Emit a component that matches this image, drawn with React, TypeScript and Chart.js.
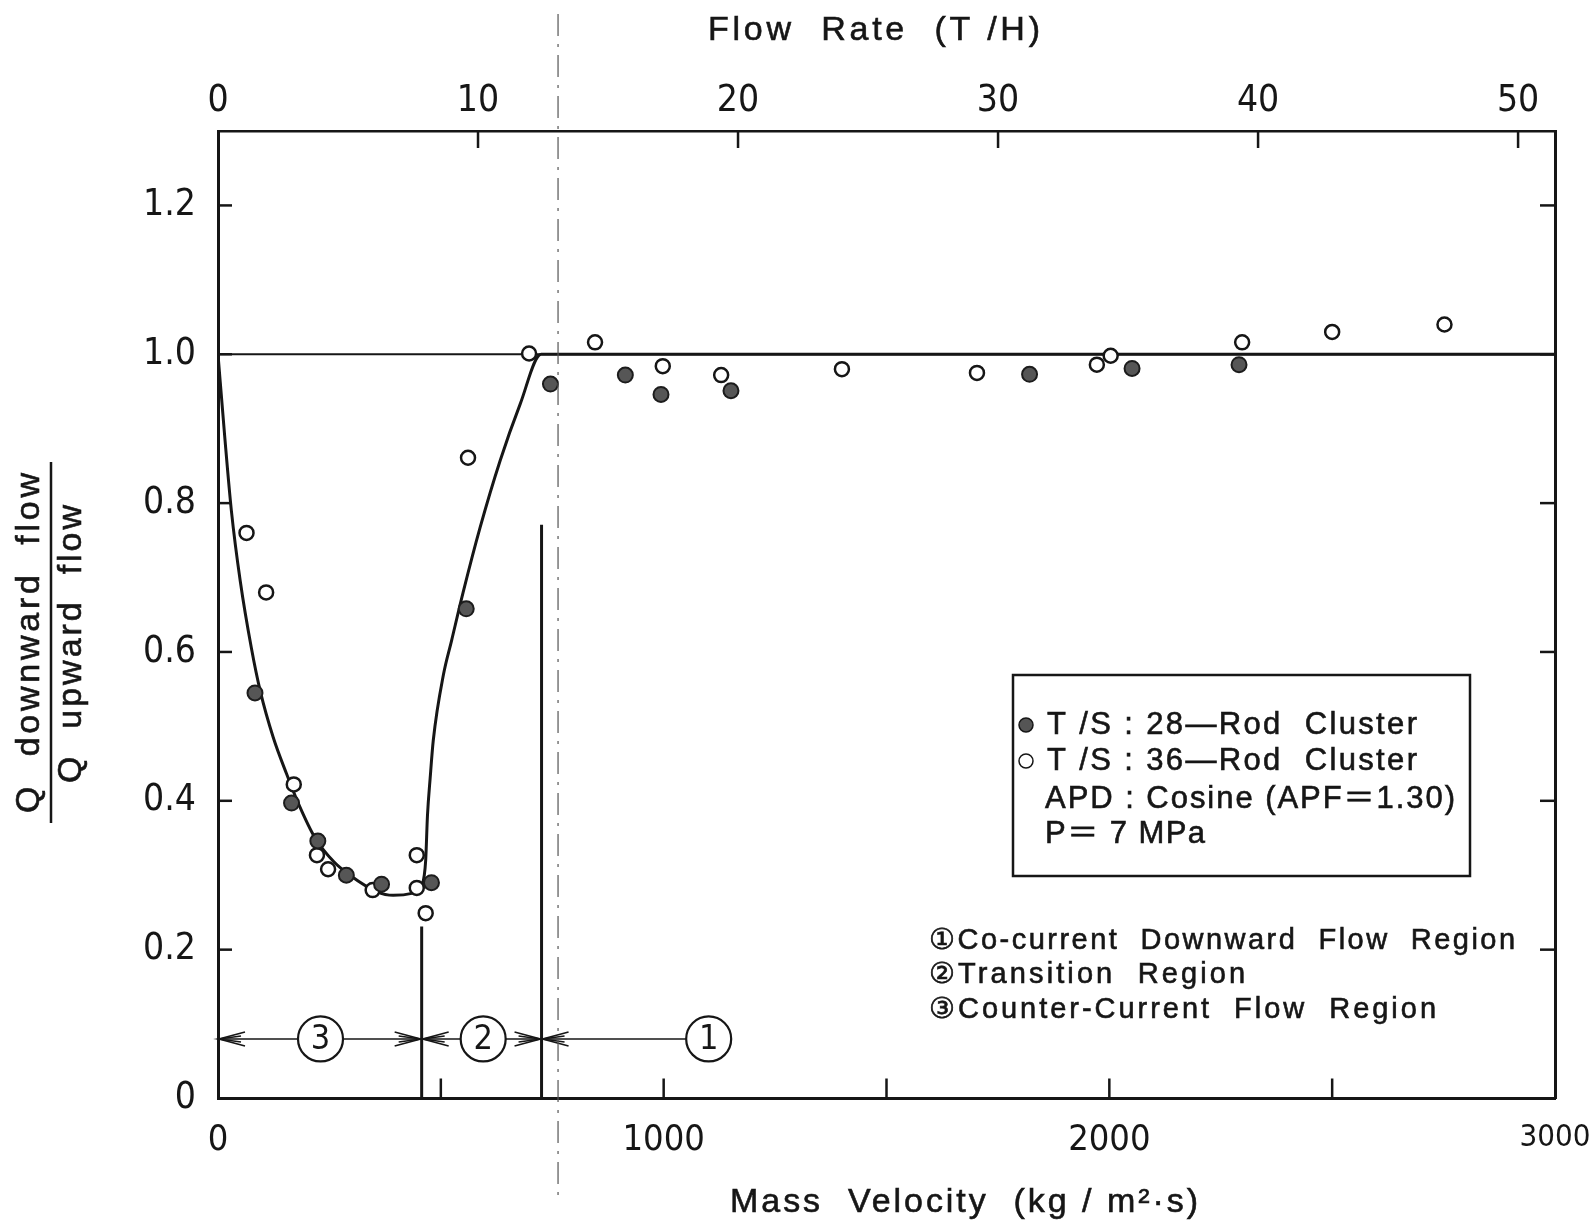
import React, { useEffect, useRef } from 'react';
import { Chart, registerables } from 'chart.js';

Chart.register(...registerables);

// ---------------- data ----------------
const MASS_TICKS = [0, 500, 1000, 1500, 2000, 2500, 3000];
const MASS_LABELED = [0, 1000, 2000, 3000];
const FLOW_TICKS = [0, 10, 20, 30, 40, 50];
const FLOW_MAX = 51.42; // T/H at 3000 kg/m2s
const RATIO_TICKS = [0, 0.2, 0.4, 0.6, 0.8, 1.0, 1.2];

// T/S : 28-Rod Cluster (filled)
const FILLED_X = [83, 165, 224, 288, 367, 479, 557, 746, 914, 994, 1151, 1821, 2051, 2291];
const FILLED_Y = [0.545, 0.397, 0.346, 0.300, 0.288, 0.290, 0.658, 0.960, 0.972, 0.946, 0.951, 0.973, 0.981, 0.986];

// T/S : 36-Rod Cluster (open)
const OPEN_X = [64, 108, 170, 222, 247, 347, 446, 446, 466, 561, 698, 846, 998, 1129, 1400, 1703, 1972, 2003, 2298, 2500, 2752];
const OPEN_Y = [0.760, 0.680, 0.422, 0.327, 0.308, 0.280, 0.327, 0.283, 0.249, 0.861, 1.001, 1.016, 0.984, 0.972, 0.980, 0.975, 0.986, 0.998, 1.016, 1.030, 1.040];

// fitted curve
const CURVE_X = [0, 15, 30, 50, 75, 95, 124, 154, 180, 218, 260, 296, 356, 393, 438, 458, 466, 470, 476, 483, 506, 524, 550, 588, 633, 678, 725, 3000];
const CURVE_Y = [1.0, 0.89, 0.79, 0.695, 0.605, 0.547, 0.485, 0.436, 0.397, 0.350, 0.318, 0.300, 0.278, 0.273, 0.276, 0.287, 0.32, 0.38, 0.43, 0.481, 0.570, 0.615, 0.680, 0.767, 0.857, 0.933, 1.0, 1.0];

const REF_X = [0, 3000];
const REF_Y = [1.0, 1.0];

// region boundaries
const BOUNDARY_X = [457, 726];
const BOUNDARY_TOP = [0.231, 0.771];
const DASHDOT_X = 763;

// region arrows
const ARROW_Y = 0.08;
const REGION_LABELS = ['3', '2', '1'];
const REGION_FROM = [0, 457, 726];
const REGION_TO = [457, 726, 1101];
const REGION_CIRCLE_X = [230, 595, 1101];
const REGION_RIGHT_ARROW = [true, true, false];

const LEGEND_LINES = ['T /S : 28\u2014Rod  Cluster', 'T /S : 36\u2014Rod  Cluster', 'APD : Cosine (APF\uFF1D1.30)', 'P\uFF1D 7 MPa'];
const REGION_TEXT = ['\u2460Co-current  Downward  Flow  Region', '\u2461Transition  Region', '\u2462Counter-Current  Flow  Region'];

// ---------------- styles ----------------
const W = 1592;
const H = 1224;
const LEFT_W = 218;
const RIGHT_W = 37;
const TOP_H = 131;
const BOTTOM_H = 125.5;
const INK = '#161616';
const SANS = "'Liberation Sans', 'DejaVu Sans', 'Noto Sans CJK JP', sans-serif";
const NARROW = "'Liberation Sans Narrow', 'DejaVu Sans Condensed', 'Liberation Sans', sans-serif";

function fitText(ctx: CanvasRenderingContext2D, text: string, x: number, y: number, width: number, font: string) {
  ctx.save();
  ctx.font = font;
  (ctx as any).letterSpacing = '0px';
  const w = ctx.measureText(text).width;
  const n = Array.from(text).length;
  const ls = n > 1 ? (width - w) / (n - 1) : 0;
  (ctx as any).letterSpacing = ls.toFixed(2) + 'px';
  ctx.textAlign = 'left';
  ctx.fillText(text, x, y);
  ctx.lineWidth = 0.6;
  ctx.strokeStyle = INK;
  ctx.strokeText(text, x, y);
  ctx.restore();
}

function line(ctx: CanvasRenderingContext2D, x1: number, y1: number, x2: number, y2: number) {
  ctx.beginPath();
  ctx.moveTo(x1, y1);
  ctx.lineTo(x2, y2);
  ctx.stroke();
}

function arrowHead(ctx: CanvasRenderingContext2D, tipX: number, y: number, dir: number) {
  const L = 26;
  ctx.beginPath();
  ctx.moveTo(tipX - dir * L, y - 7);
  ctx.lineTo(tipX, y);
  ctx.lineTo(tipX - dir * L, y + 7);
  ctx.stroke();
  ctx.beginPath();
  ctx.moveTo(tipX - dir * (L - 4), y - 3);
  ctx.lineTo(tipX, y);
  ctx.lineTo(tipX - dir * (L - 4), y + 3);
  ctx.stroke();
}

const annotPlugin = {
  id: 'annot',
  afterDatasetsDraw(chart: any) {
    const ctx: CanvasRenderingContext2D = chart.ctx;
    const xs = chart.scales.x;
    const ys = chart.scales.y;
    const ay = ys.getPixelForValue(ARROW_Y);
    ctx.save();
    ctx.strokeStyle = INK;
    ctx.lineWidth = 1.6;
    REGION_LABELS.forEach((lab, i) => {
      arrowHead(ctx, xs.getPixelForValue(REGION_FROM[i]) + 1, ay, -1);
      if (REGION_RIGHT_ARROW[i]) arrowHead(ctx, xs.getPixelForValue(REGION_TO[i]) - 1, ay, 1);
      const cx = xs.getPixelForValue(REGION_CIRCLE_X[i]);
      ctx.beginPath();
      ctx.arc(cx, ay, 22.5, 0, Math.PI * 2);
      ctx.fillStyle = '#fff';
      ctx.fill();
      ctx.lineWidth = 2.2;
      ctx.stroke();
      ctx.lineWidth = 1.6;
      ctx.fillStyle = INK;
      ctx.font = `34px ${NARROW}`;
      ctx.textAlign = 'center';
      ctx.textBaseline = 'middle';
      ctx.fillText(lab, cx, ay + 1);
    });
    ctx.restore();
  },
  afterDraw(chart: any) {
    const ctx: CanvasRenderingContext2D = chart.ctx;
    const { left, right, top, bottom } = chart.chartArea;
    const xs = chart.scales.x;
    const x2 = chart.scales.x2;
    const ys = chart.scales.y;
    ctx.save();
    ctx.strokeStyle = INK;
    ctx.fillStyle = INK;

    // inward tick marks
    ctx.lineWidth = 2.5;
    xs.ticks.forEach((t: any) => {
      const p = xs.getPixelForValue(t.value);
      if (p > left + 2 && p < right - 2) line(ctx, p, bottom, p, bottom - 20);
    });
    x2.ticks.forEach((t: any) => {
      const p = x2.getPixelForValue(t.value);
      if (p > left + 2 && p < right - 2) line(ctx, p, top, p, top + 17);
    });
    ys.ticks.forEach((t: any) => {
      const p = ys.getPixelForValue(t.value);
      if (p > top + 2 && p < bottom - 2) {
        line(ctx, left, p, left + 14, p);
        line(ctx, right, p, right - 15, p);
      }
    });

    // dash-dot vertical line
    const dx = xs.getPixelForValue(DASHDOT_X);
    ctx.save();
    ctx.strokeStyle = '#555';
    ctx.lineWidth = 1.2;
    ctx.setLineDash([22, 8, 3, 8]);
    line(ctx, dx, 14, dx, 1196);
    ctx.restore();

    // axis titles
    ctx.textBaseline = 'middle';
    fitText(ctx, 'Flow  Rate  (T /H)', 708, 31, 332, `34px ${SANS}`);
    fitText(ctx, 'Mass  Velocity  (kg / m\u00B2\u00B7s)', 730, 1203, 468, `34px ${SANS}`);

    // y title (fraction)
    ctx.save();
    ctx.translate(30, 643);
    ctx.rotate(-Math.PI / 2);
    fitText(ctx, 'Q  downward  flow', -170, 0, 340, `34px ${SANS}`);
    ctx.restore();
    ctx.save();
    ctx.translate(72, 644);
    ctx.rotate(-Math.PI / 2);
    fitText(ctx, 'Q  upward  flow', -139, 0, 278, `34px ${SANS}`);
    ctx.restore();
    ctx.lineWidth = 2.5;
    line(ctx, 51, 462, 51, 823);

    // legend box
    ctx.lineWidth = 2.5;
    ctx.strokeRect(1013, 675, 457, 201);
    ctx.textBaseline = 'alphabetic';
    const lgY = [734, 770, 808, 843];
    const lgX = [1047, 1047, 1045, 1045];
    const lgW = [370, 370, 410, 160];
    LEGEND_LINES.forEach((s, i) => fitText(ctx, s, lgX[i], lgY[i], lgW[i], `31px ${SANS}`));
    ctx.beginPath();
    ctx.arc(1026, 725, 7, 0, Math.PI * 2);
    ctx.fillStyle = '#555';
    ctx.fill();
    ctx.lineWidth = 1.5;
    ctx.stroke();
    ctx.beginPath();
    ctx.arc(1026, 761, 7, 0, Math.PI * 2);
    ctx.fillStyle = '#fff';
    ctx.fill();
    ctx.stroke();
    ctx.fillStyle = INK;

    // region descriptions
    const rgY = [949, 983, 1018];
    const rgW = [586, 316, 507];
    REGION_TEXT.forEach((s, i) => fitText(ctx, s, 929, rgY[i], rgW[i], `29px ${SANS}`));

    ctx.restore();
  },
};

export default function App() {
  const ref = useRef<HTMLCanvasElement>(null);
  useEffect(() => {
    const canvas = ref.current!;
    const pts = (xs: number[], ys: number[]) => xs.map((x, i) => ({ x, y: ys[i] }));
    const simpleLine = (data: any[], width: number, order: number) => ({
      type: 'scatter' as const,
      data,
      showLine: true,
      borderColor: INK,
      borderWidth: width,
      pointRadius: 0,
      order,
    });
    const datasets: any[] = [
      {
        label: 'T /S : 28-Rod Cluster',
        data: pts(FILLED_X, FILLED_Y),
        pointRadius: 7.5,
        pointBackgroundColor: '#565656',
        pointBorderColor: '#1c1c1c',
        pointBorderWidth: 2,
        order: 0,
      },
      {
        label: 'T /S : 36-Rod Cluster',
        data: pts(OPEN_X, OPEN_Y),
        pointRadius: 7,
        pointBackgroundColor: '#ffffff',
        pointBorderColor: INK,
        pointBorderWidth: 2.5,
        order: 1,
      },
      {
        ...simpleLine(pts(CURVE_X, CURVE_Y), 3, 10),
        cubicInterpolationMode: 'monotone',
        tension: 0.4,
      },
      simpleLine(pts(REF_X, REF_Y), 2, 11),
      ...BOUNDARY_X.map((bx, i) => simpleLine([{ x: bx, y: 0 }, { x: bx, y: BOUNDARY_TOP[i] }], 3, 12)),
      ...REGION_FROM.map((fx, i) => simpleLine([{ x: fx, y: ARROW_Y }, { x: REGION_TO[i], y: ARROW_Y }], 1.6, 13)),
    ];

    const noPadH = (s: any) => { s.paddingLeft = 0; s.paddingRight = 0; };
    const noPadV = (s: any) => { s.paddingTop = 0; s.paddingBottom = 0; };

    const chart = new Chart(canvas, {
      type: 'scatter',
      data: { datasets },
      options: {
        animation: false,
        responsive: false,
        devicePixelRatio: 1,
        layout: { padding: 0 },
        plugins: { legend: { display: false }, tooltip: { enabled: false } },
        scales: {
          x: {
            type: 'linear',
            position: 'bottom',
            min: 0,
            max: 3000,
            grid: { display: false, drawTicks: false },
            border: { display: true, color: INK, width: 3 },
            afterBuildTicks: (s: any) => { s.ticks = MASS_TICKS.map((v) => ({ value: v })); },
            afterFit: (s: any) => { s.height = BOTTOM_H; noPadH(s); },
            ticks: {
              autoSkip: false,
              maxRotation: 0,
              padding: 21,
              color: INK,
              font: (c: any) => ({ family: NARROW, size: c.tick && c.tick.value === 3000 ? 31 : 36 }),
              callback: (v: any) => (MASS_LABELED.includes(Number(v)) ? String(v) : ''),
            },
          },
          x2: {
            type: 'linear',
            position: 'top',
            min: 0,
            max: FLOW_MAX,
            grid: { display: false, drawTicks: false },
            border: { display: true, color: INK, width: 2.5 },
            afterBuildTicks: (s: any) => { s.ticks = FLOW_TICKS.map((v) => ({ value: v })); },
            afterFit: (s: any) => { s.height = TOP_H; noPadH(s); },
            ticks: {
              autoSkip: false,
              maxRotation: 0,
              padding: 7,
              color: INK,
              font: { family: NARROW, size: 37 },
              callback: (v: any) => String(v),
            },
          },
          y: {
            type: 'linear',
            position: 'left',
            min: 0,
            max: 1.3,
            grid: { display: false, drawTicks: false },
            border: { display: true, color: INK, width: 3 },
            afterBuildTicks: (s: any) => { s.ticks = RATIO_TICKS.map((v) => ({ value: v })); },
            afterFit: (s: any) => { s.width = LEFT_W; noPadV(s); },
            ticks: {
              autoSkip: false,
              padding: 22,
              color: INK,
              font: { family: NARROW, size: 37 },
              callback: (v: any) => (Number(v) === 0 ? '0' : Number(v).toFixed(1)),
            },
          },
          y2: {
            type: 'linear',
            position: 'right',
            min: 0,
            max: 1.3,
            grid: { display: false, drawTicks: false },
            border: { display: true, color: INK, width: 3 },
            afterBuildTicks: (s: any) => { s.ticks = RATIO_TICKS.map((v) => ({ value: v })); },
            afterFit: (s: any) => { s.width = RIGHT_W; noPadV(s); },
            ticks: { display: false },
          },
        },
      } as any,
      plugins: [annotPlugin],
    });
    return () => chart.destroy();
  }, []);

  return (
    <div style={{ position: 'absolute', left: 0, top: 0, width: W, height: H, background: '#fff' }}>
      <canvas ref={ref} width={W} height={H} style={{ display: 'block' }} />
    </div>
  );
}
